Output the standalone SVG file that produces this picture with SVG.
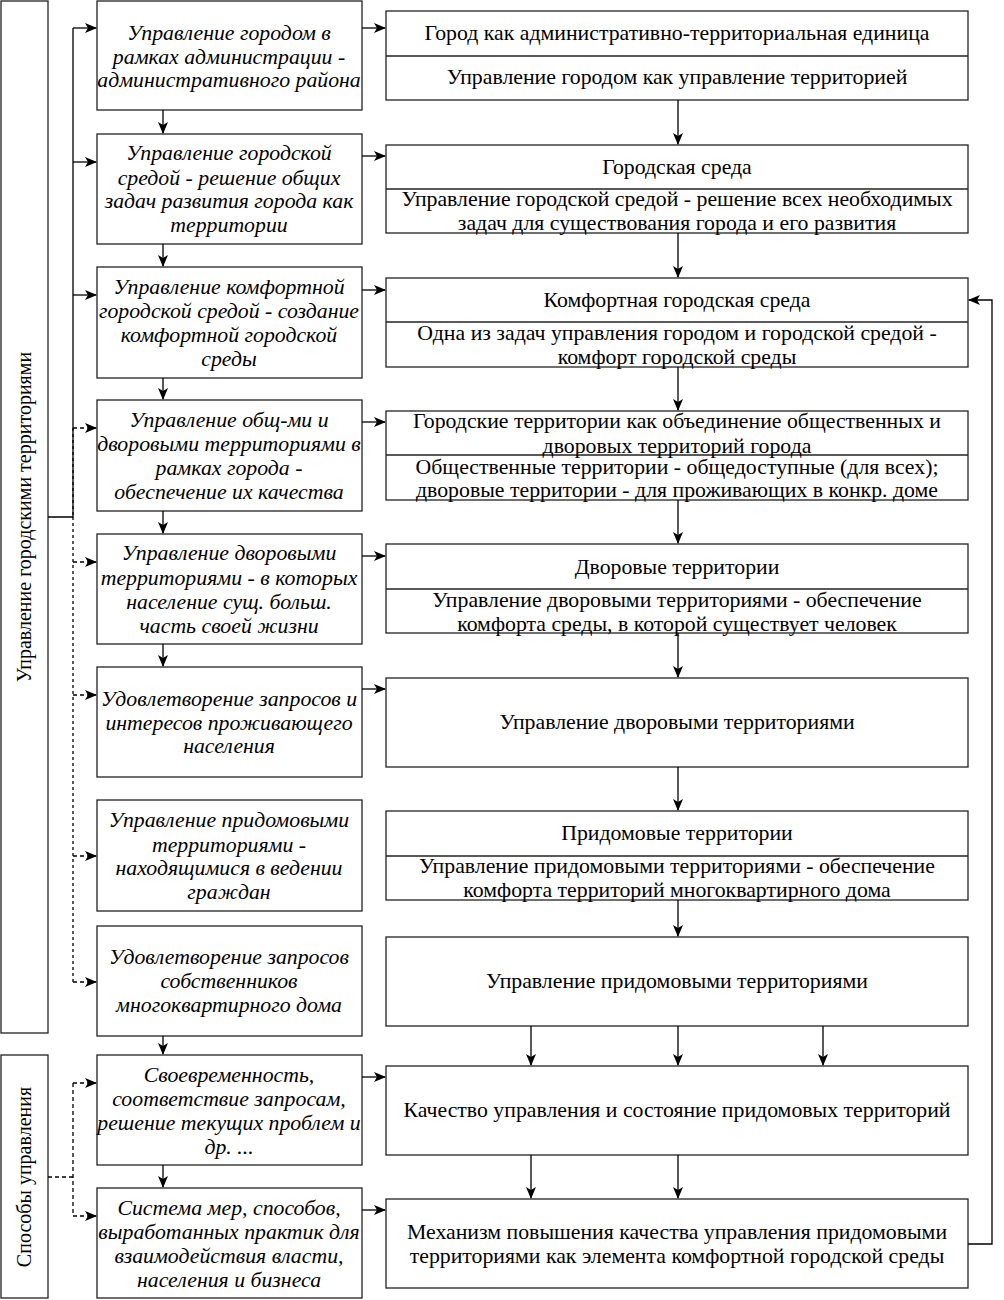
<svg xmlns="http://www.w3.org/2000/svg" width="1004" height="1300" viewBox="0 0 1004 1300">
<defs>
<marker id="ah" viewBox="0 0 12 10" refX="11" refY="5" markerWidth="12" markerHeight="10" markerUnits="userSpaceOnUse" orient="auto">
<path d="M0,0 L12,5 L0,10 L3,5 z" fill="#000"/>
</marker>
<style>
.b{fill:#fff;stroke:#222;stroke-width:1.3}
.d{stroke:#222;stroke-width:1.3;fill:none}
.c{stroke:#000;stroke-width:1.3;fill:none}
.s{stroke:#000;stroke-width:1.3;fill:none;stroke-dasharray:4 3}
.t{font-family:"Liberation Serif","Times New Roman",serif;font-size:20px;fill:#000;text-anchor:middle}
.i{font-style:italic}
</style>
</defs>
<rect width="1004" height="1300" fill="#fff"/>

<g id="side1"><rect class="b" x="1" y="1" width="47" height="1032"/><text class="t" transform="translate(31,517) rotate(-90)">Управление городскими территориями</text></g>
<g id="side2"><rect class="b" x="1" y="1055" width="47" height="243"/><text class="t" transform="translate(31,1177) rotate(-90)">Способы управления</text></g>

<g id="L1"><rect class="b" x="97" y="1" width="265" height="109"/><g transform="matrix(1.09,0,0,1,229,0)"><text class="t i" x="0" y="40">Управление городом в</text><text class="t i" x="0" y="64">рамках администрации -</text><text class="t i" x="0" y="87">административного района</text></g></g>
<g id="L2"><rect class="b" x="97" y="134" width="265" height="110"/><g transform="matrix(1.09,0,0,1,229,0)"><text class="t i" x="0" y="160">Управление городской</text><text class="t i" x="0" y="185">средой - решение общих</text><text class="t i" x="0" y="208">задач развития города как</text><text class="t i" x="0" y="232">территории</text></g></g>
<g id="L3"><rect class="b" x="97" y="267" width="265" height="111"/><g transform="matrix(1.09,0,0,1,229,0)"><text class="t i" x="0" y="294">Управление комфортной</text><text class="t i" x="0" y="318">городской средой - создание</text><text class="t i" x="0" y="342">комфортной городской</text><text class="t i" x="0" y="366">среды</text></g></g>
<g id="L4"><rect class="b" x="97" y="400" width="265" height="111"/><g transform="matrix(1.09,0,0,1,229,0)"><text class="t i" x="0" y="427">Управление общ-ми и</text><text class="t i" x="0" y="451">дворовыми территориями в</text><text class="t i" x="0" y="475">рамках города -</text><text class="t i" x="0" y="499">обеспечение их качества</text></g></g>
<g id="L5"><rect class="b" x="97" y="534" width="265" height="110"/><g transform="matrix(1.09,0,0,1,229,0)"><text class="t i" x="0" y="560">Управление дворовыми</text><text class="t i" x="0" y="585">территориями - в которых</text><text class="t i" x="0" y="609">население сущ. больш.</text><text class="t i" x="0" y="633">часть своей жизни</text></g></g>
<g id="L6"><rect class="b" x="97" y="667" width="265" height="110"/><g transform="matrix(1.09,0,0,1,229,0)"><text class="t i" x="0" y="706">Удовлетворение запросов и</text><text class="t i" x="0" y="730">интересов проживающего</text><text class="t i" x="0" y="753">населения</text></g></g>
<g id="L7"><rect class="b" x="97" y="800" width="265" height="111"/><g transform="matrix(1.09,0,0,1,229,0)"><text class="t i" x="0" y="827">Управление придомовыми</text><text class="t i" x="0" y="852">территориями -</text><text class="t i" x="0" y="875">находящимися в ведении</text><text class="t i" x="0" y="899">граждан</text></g></g>
<g id="L8"><rect class="b" x="97" y="926" width="265" height="110"/><g transform="matrix(1.09,0,0,1,229,0)"><text class="t i" x="0" y="964">Удовлетворение запросов</text><text class="t i" x="0" y="988">собственников</text><text class="t i" x="0" y="1012">многоквартирного дома</text></g></g>
<g id="L9"><rect class="b" x="97" y="1055" width="265" height="110"/><g transform="matrix(1.09,0,0,1,229,0)"><text class="t i" x="0" y="1082">Своевременность,</text><text class="t i" x="0" y="1106">соответствие запросам,</text><text class="t i" x="0" y="1130">решение текущих проблем и</text><text class="t i" x="0" y="1154">др. ...</text></g></g>
<g id="L10"><rect class="b" x="97" y="1188" width="265" height="110"/><g transform="matrix(1.09,0,0,1,229,0)"><text class="t i" x="0" y="1215">Система мер, способов,</text><text class="t i" x="0" y="1239">выработанных практик для</text><text class="t i" x="0" y="1263">взаимодействия власти,</text><text class="t i" x="0" y="1287">населения и бизнеса</text></g></g>

<g id="R1"><rect class="b" x="386" y="11" width="582" height="89"/><line class="d" x1="386" y1="56" x2="968" y2="56"/><g transform="matrix(1.09,0,0,1,677,0)"><text class="t" x="0" y="40">Город как административно-территориальная единица</text><text class="t" x="0" y="84">Управление городом как управление территорией</text></g></g>
<g id="R2"><rect class="b" x="386" y="145" width="582" height="88"/><line class="d" x1="386" y1="189" x2="968" y2="189"/><g transform="matrix(1.09,0,0,1,677,0)"><text class="t" x="0" y="174">Городская среда</text><text class="t" x="0" y="206">Управление городской средой - решение всех необходимых</text><text class="t" x="0" y="230">задач для существования города и его развития</text></g></g>
<g id="R3"><rect class="b" x="386" y="278" width="582" height="89"/><line class="d" x1="386" y1="322" x2="968" y2="322"/><g transform="matrix(1.09,0,0,1,677,0)"><text class="t" x="0" y="307">Комфортная городская среда</text><text class="t" x="0" y="340">Одна из задач управления городом и городской средой -</text><text class="t" x="0" y="364">комфорт городской среды</text></g></g>
<g id="R4"><rect class="b" x="386" y="411" width="582" height="89"/><line class="d" x1="386" y1="455" x2="968" y2="455"/><g transform="matrix(1.09,0,0,1,677,0)"><text class="t" x="0" y="428">Городские территории как объединение общественных и</text><text class="t" x="0" y="453">дворовых территорий города</text><text class="t" x="0" y="474">Общественные территории - общедоступные (для всех);</text><text class="t" x="0" y="497">дворовые территории - для проживающих в конкр. доме</text></g></g>
<g id="R5"><rect class="b" x="386" y="544" width="582" height="89"/><line class="d" x1="386" y1="589" x2="968" y2="589"/><g transform="matrix(1.09,0,0,1,677,0)"><text class="t" x="0" y="574">Дворовые территории</text><text class="t" x="0" y="607">Управление дворовыми территориями - обеспечение</text><text class="t" x="0" y="631">комфорта среды, в которой существует человек</text></g></g>
<g id="R6"><rect class="b" x="386" y="678" width="582" height="89"/><g transform="matrix(1.09,0,0,1,677,0)"><text class="t" x="0" y="729">Управление дворовыми территориями</text></g></g>
<g id="R7"><rect class="b" x="386" y="811" width="582" height="89"/><line class="d" x1="386" y1="856" x2="968" y2="856"/><g transform="matrix(1.09,0,0,1,677,0)"><text class="t" x="0" y="840">Придомовые территории</text><text class="t" x="0" y="873">Управление придомовыми территориями - обеспечение</text><text class="t" x="0" y="897">комфорта территорий многоквартирного дома</text></g></g>
<g id="R8"><rect class="b" x="386" y="937" width="582" height="89"/><g transform="matrix(1.09,0,0,1,677,0)"><text class="t" x="0" y="988">Управление придомовыми территориями</text></g></g>
<g id="R9"><rect class="b" x="386" y="1066" width="582" height="89"/><g transform="matrix(1.09,0,0,1,677,0)"><text class="t" x="0" y="1117">Качество управления и состояние придомовых территорий</text></g></g>
<g id="R10"><rect class="b" x="386" y="1199" width="582" height="89"/><g transform="matrix(1.09,0,0,1,677,0)"><text class="t" x="0" y="1239">Механизм повышения качества управления придомовыми</text><text class="t" x="0" y="1263">территориями как элемента комфортной городской среды</text></g></g>

<g id="connectors">
<path class="c" d="M48,517 H73 V28"/>
<path class="c" d="M73,28 H96" marker-end="url(#ah)"/>
<path class="c" d="M73,162 H96" marker-end="url(#ah)"/>
<path class="c" d="M73,295 H96" marker-end="url(#ah)"/>
<path class="s" d="M73,428 V517" style="stroke-dasharray:3 3"/>
<path class="s" d="M73,517 V982" style="stroke-dasharray:3 3"/>
<path class="s" d="M73,428 H96" marker-end="url(#ah)"/>
<path class="s" d="M73,562 H96" marker-end="url(#ah)"/>
<path class="s" d="M73,695 H96" marker-end="url(#ah)"/>
<path class="s" d="M73,856 H96" marker-end="url(#ah)"/>
<path class="s" d="M73,982 H96" marker-end="url(#ah)"/>
<path class="s" d="M48,1177 H73"/>
<path class="s" d="M73,1083 V1216"/>
<path class="s" d="M73,1083 H96" marker-end="url(#ah)"/>
<path class="s" d="M73,1216 H96" marker-end="url(#ah)"/>
<path class="c" d="M163,110 V133" marker-end="url(#ah)"/>
<path class="c" d="M163,244 V266" marker-end="url(#ah)"/>
<path class="c" d="M163,378 V399" marker-end="url(#ah)"/>
<path class="c" d="M163,511 V533" marker-end="url(#ah)"/>
<path class="c" d="M163,644 V666" marker-end="url(#ah)"/>
<path class="c" d="M163,1036 V1054" marker-end="url(#ah)"/>
<path class="c" d="M163,1165 V1187" marker-end="url(#ah)"/>
<path class="c" d="M362,28 H385" marker-end="url(#ah)"/>
<path class="c" d="M362,156 H385" marker-end="url(#ah)"/>
<path class="c" d="M362,290 H385" marker-end="url(#ah)"/>
<path class="c" d="M362,422 H385" marker-end="url(#ah)"/>
<path class="c" d="M362,556 H385" marker-end="url(#ah)"/>
<path class="c" d="M362,689 H385" marker-end="url(#ah)"/>
<path class="c" d="M362,1077 H385" marker-end="url(#ah)"/>
<path class="c" d="M362,1210 H385" marker-end="url(#ah)"/>
<path class="c" d="M678,100 V144" marker-end="url(#ah)"/>
<path class="c" d="M678,233 V277" marker-end="url(#ah)"/>
<path class="c" d="M678,367 V410" marker-end="url(#ah)"/>
<path class="c" d="M678,500 V543" marker-end="url(#ah)"/>
<path class="c" d="M678,633 V677" marker-end="url(#ah)"/>
<path class="c" d="M678,767 V810" marker-end="url(#ah)"/>
<path class="c" d="M678,900 V936" marker-end="url(#ah)"/>
<path class="c" d="M531,1026 V1065" marker-end="url(#ah)"/>
<path class="c" d="M678,1026 V1065" marker-end="url(#ah)"/>
<path class="c" d="M823,1026 V1065" marker-end="url(#ah)"/>
<path class="c" d="M531,1155 V1198" marker-end="url(#ah)"/>
<path class="c" d="M678,1155 V1198" marker-end="url(#ah)"/>
<path class="c" d="M968,1244 H992 V300 H969" marker-end="url(#ah)"/>
</g>
</svg>
